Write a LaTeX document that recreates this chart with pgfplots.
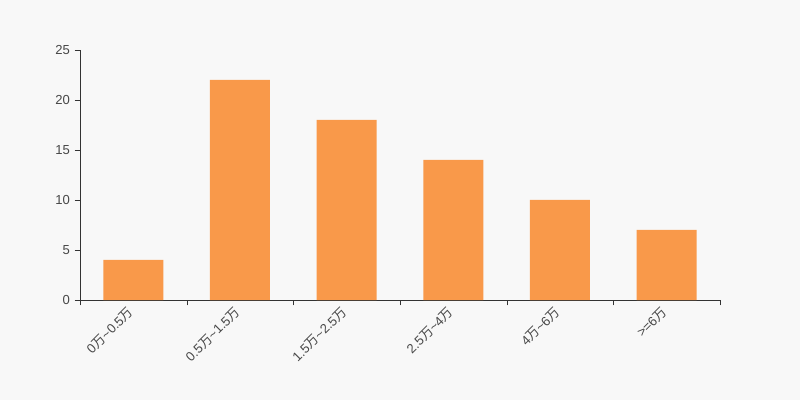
\documentclass[border=0pt]{standalone}
\usepackage{pgfplots}
\pgfplotsset{compat=1.18}
\usepackage{fontspec}
\setmainfont{Liberation Sans}
\newfontfamily\cjk{Noto Sans CJK SC}
\newcommand{\wan}{{\cjk 万}}
\newcommand{\tl}{\textasciitilde}
\definecolor{bg}{HTML}{F8F8F8}
\definecolor{bar}{HTML}{F9994A}
\definecolor{txt}{HTML}{333333}
\begin{document}
\begin{tikzpicture}[x=0.75pt,y=0.75pt]
  \fill[bg, use as bounding box] (0,0) rectangle (800,400);
  \begin{axis}[
    at={(75,100)}, anchor=south west,
    scale only axis,
    width=480pt, height=187.5pt,
    axis lines=left,
    axis line style={txt, -},
    xmin=-0.5, xmax=5.5,
    ymin=0, ymax=25,
    ytick={0,5,...,25},
    xtick={0,...,5},
    xticklabels={0\wan\tl0.5\wan, 0.5\wan\tl1.5\wan, 1.5\wan\tl2.5\wan, 2.5\wan\tl4\wan, 4\wan\tl6\wan, >=6\wan},
    minor xtick={-0.5,0.5,...,5.5},
    major x tick style={draw=none},
    minor x tick style={txt},
    y tick style={txt},
    tick align=outside,
    major tick length=4pt,
    minor tick length=4pt,
    tick label style={font=\fontsize{9.8pt}{11pt}\selectfont, text=txt!90},
    xticklabel style={rotate=45, anchor=east, yshift=-1pt},
    /pgf/number format/assume math mode=true,
    ybar, bar width=0.5625,
    clip=false,
  ]
    \addplot[fill=bar, draw=none] coordinates {(0,4) (1,22) (2,18) (3,14) (4,10) (5,7)};
  \end{axis}
\end{tikzpicture}
\end{document}
